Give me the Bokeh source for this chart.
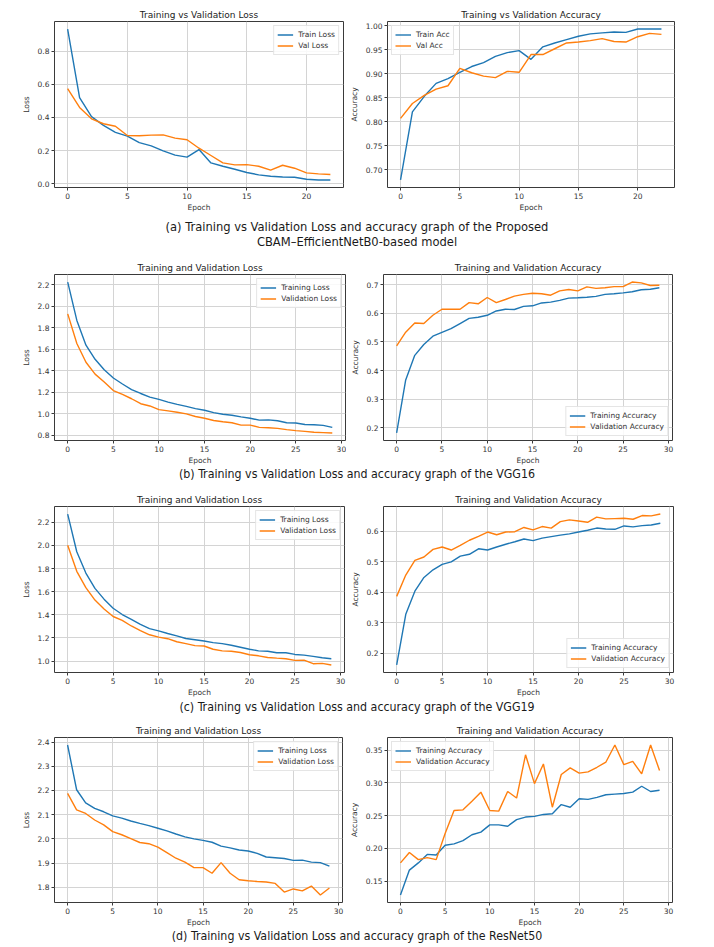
from bokeh.plotting import figure
from bokeh.layouts import column, row
from bokeh.models import Div, Range1d, FixedTicker, Legend, LegendItem, NumeralTickFormatter
from bokeh.embed import file_html
from bokeh.resources import INLINE

# ---------------- data ----------------
epochs_a = list(range(23))
epochs_30 = list(range(30))

effnet_train_loss = [0.935, 0.52, 0.405, 0.352, 0.31, 0.287, 0.248, 0.228, 0.198, 0.172, 0.16, 0.206,
                     0.125, 0.105, 0.087, 0.067, 0.053, 0.044, 0.040, 0.038, 0.026, 0.022, 0.022]
effnet_val_loss = [0.574, 0.461, 0.392, 0.362, 0.347, 0.291, 0.289, 0.293, 0.295, 0.275, 0.265, 0.214,
                   0.170, 0.125, 0.113, 0.115, 0.105, 0.081, 0.111, 0.093, 0.065, 0.059, 0.055]
effnet_train_acc = [0.679, 0.8205, 0.853, 0.880, 0.890, 0.903, 0.915, 0.923, 0.936, 0.944, 0.948, 0.930,
                    0.956, 0.964, 0.971, 0.978, 0.983, 0.985, 0.987, 0.986, 0.993, 0.993, 0.993]
effnet_val_acc = [0.807, 0.838, 0.855, 0.868, 0.875, 0.911, 0.902, 0.895, 0.892, 0.905, 0.903, 0.940,
                  0.940, 0.952, 0.964, 0.966, 0.969, 0.973, 0.967, 0.966, 0.977, 0.984, 0.982]

vgg16_train_loss = [2.224, 1.867, 1.637, 1.506, 1.408, 1.332, 1.276, 1.224, 1.188, 1.154, 1.133, 1.108,
                    1.087, 1.068, 1.047, 1.032, 1.010, 0.995, 0.986, 0.971, 0.958, 0.940, 0.943, 0.934,
                    0.916, 0.913, 0.900, 0.897, 0.891, 0.873]
vgg16_val_loss = [1.928, 1.653, 1.478, 1.368, 1.295, 1.215, 1.179, 1.139, 1.093, 1.072, 1.038, 1.026,
                  1.013, 0.998, 0.974, 0.958, 0.937, 0.925, 0.916, 0.894, 0.894, 0.873, 0.870, 0.864,
                  0.852, 0.843, 0.836, 0.827, 0.824, 0.821]
vgg16_train_acc = [0.182, 0.367, 0.453, 0.491, 0.520, 0.533, 0.546, 0.564, 0.582, 0.586, 0.593, 0.608,
                   0.614, 0.613, 0.624, 0.626, 0.636, 0.639, 0.645, 0.653, 0.654, 0.656, 0.659, 0.666,
                   0.668, 0.671, 0.675, 0.682, 0.684, 0.689]
vgg16_val_acc = [0.486, 0.534, 0.566, 0.564, 0.593, 0.614, 0.614, 0.614, 0.637, 0.633, 0.655, 0.637,
                 0.648, 0.660, 0.666, 0.670, 0.668, 0.663, 0.678, 0.683, 0.678, 0.692, 0.687, 0.689,
                 0.693, 0.693, 0.709, 0.706, 0.697, 0.698]

vgg19_train_loss = [2.271, 1.945, 1.761, 1.628, 1.535, 1.456, 1.402, 1.360, 1.317, 1.280, 1.261, 1.238,
                    1.218, 1.195, 1.184, 1.173, 1.159, 1.150, 1.136, 1.119, 1.102, 1.088, 1.085, 1.071,
                    1.071, 1.057, 1.051, 1.040, 1.028, 1.020]
vgg19_val_loss = [2.002, 1.776, 1.634, 1.527, 1.450, 1.385, 1.351, 1.303, 1.263, 1.227, 1.207, 1.193,
                  1.167, 1.150, 1.133, 1.130, 1.102, 1.088, 1.085, 1.074, 1.054, 1.045, 1.031, 1.025,
                  1.020, 1.006, 1.008, 0.977, 0.980, 0.966]
vgg19_train_acc = [0.162, 0.328, 0.404, 0.449, 0.474, 0.492, 0.500, 0.519, 0.525, 0.543, 0.539, 0.549,
                   0.558, 0.566, 0.575, 0.570, 0.578, 0.583, 0.588, 0.592, 0.598, 0.604, 0.611, 0.608,
                   0.607, 0.618, 0.615, 0.619, 0.621, 0.627]
vgg19_val_acc = [0.387, 0.457, 0.505, 0.516, 0.541, 0.549, 0.539, 0.554, 0.571, 0.584, 0.598, 0.589,
                 0.598, 0.599, 0.613, 0.605, 0.616, 0.611, 0.632, 0.638, 0.634, 0.630, 0.647, 0.641,
                 0.642, 0.643, 0.640, 0.652, 0.651, 0.657]

resnet_train_loss = [2.388, 2.203, 2.149, 2.126, 2.112, 2.095, 2.086, 2.074, 2.064, 2.055, 2.044, 2.033,
                     2.020, 2.008, 2.000, 1.994, 1.986, 1.970, 1.963, 1.954, 1.950, 1.940, 1.925, 1.922,
                     1.919, 1.911, 1.912, 1.904, 1.902, 1.887]
resnet_val_loss = [2.188, 2.120, 2.105, 2.078, 2.058, 2.030, 2.017, 2.001, 1.985, 1.980, 1.966, 1.943,
                   1.920, 1.904, 1.881, 1.881, 1.858, 1.902, 1.858, 1.831, 1.827, 1.824, 1.822, 1.816,
                   1.780, 1.793, 1.785, 1.805, 1.768, 1.797]
resnet_train_acc = [0.129, 0.167, 0.178, 0.191, 0.190, 0.205, 0.207, 0.212, 0.221, 0.225, 0.236, 0.236,
                    0.234, 0.244, 0.248, 0.249, 0.252, 0.253, 0.267, 0.263, 0.276, 0.275, 0.278, 0.282,
                    0.283, 0.284, 0.286, 0.295, 0.287, 0.289]
resnet_val_acc = [0.178, 0.194, 0.183, 0.186, 0.183, 0.223, 0.258, 0.259, 0.272, 0.286, 0.258, 0.257,
                  0.287, 0.277, 0.343, 0.299, 0.329, 0.263, 0.313, 0.323, 0.315, 0.317, 0.324, 0.332,
                  0.358, 0.328, 0.333, 0.314, 0.358, 0.319]

# tick values
xticks_a = [0, 5, 10, 15, 20]
xticks_30 = [0, 5, 10, 15, 20, 25, 30]
yticks_a_loss = [0.0, 0.2, 0.4, 0.6, 0.8]
yticks_a_acc = [0.70, 0.75, 0.80, 0.85, 0.90, 0.95, 1.00]
yticks_b_loss = [0.8, 1.0, 1.2, 1.4, 1.6, 1.8, 2.0, 2.2]
yticks_b_acc = [0.2, 0.3, 0.4, 0.5, 0.6, 0.7]
yticks_c_loss = [1.0, 1.2, 1.4, 1.6, 1.8, 2.0, 2.2]
yticks_c_acc = [0.2, 0.3, 0.4, 0.5, 0.6]
yticks_d_loss = [1.8, 1.9, 2.0, 2.1, 2.2, 2.3, 2.4]
yticks_d_acc = [0.15, 0.20, 0.25, 0.30, 0.35]

captions = [
    "(a) Training vs Validation Loss and accuracy graph of the Proposed<br>CBAM\u2013EfficientNetB0-based model",
    "(b) Training vs Validation Loss and accuracy graph of the VGG16",
    "(c) Training vs Validation Loss and accuracy graph of the VGG19",
    "(d) Training vs Validation Loss and accuracy graph of the ResNet50",
]

BLUE = "#1f77b4"
ORANGE = "#ff7f0e"
FONT = "DejaVu Sans"
CAP_FONT = "'Liberation Sans Narrow', 'Arial Narrow', 'DejaVu Sans Condensed', 'Roboto Condensed', sans-serif"


def panel(x, y1, y2, names, title, ylabel, xticks, yticks, yfmt, legend_loc,
          width, bl, br, top, frame_h=169, bottom=24):
    p = figure(width=width, height=top + frame_h + bottom, output_backend="svg",
               toolbar_location=None, title=title,
               min_border_left=bl, min_border_right=br, min_border_top=top, min_border_bottom=bottom)
    lo = min(min(y1), min(y2)); hi = max(max(y1), max(y2)); pad = (hi - lo) * 0.05
    p.y_range = Range1d(lo - pad, hi + pad)
    xpad = (max(x) - min(x)) * 0.05
    p.x_range = Range1d(min(x) - xpad, max(x) + xpad)
    p.title.text_font = FONT
    p.title.text_font_size = "9px"
    p.title.text_font_style = "normal"
    p.title.text_color = "#222222"
    p.title.align = "center"
    p.title.standoff = 3
    p.background_fill_color = "white"
    p.border_fill_color = "white"
    p.outline_line_color = "#3a3a3a"
    p.outline_line_width = 1
    for ax in (p.xaxis[0], p.yaxis[0]):
        ax.axis_line_color = None
        ax.major_tick_line_color = "#3a3a3a"
        ax.major_tick_out = 3
        ax.major_tick_in = 0
        ax.minor_tick_line_color = None
        ax.major_label_text_font = FONT
        ax.major_label_text_font_size = "7.5px"
        ax.major_label_text_color = "#333333"
        ax.major_label_standoff = 2
        ax.axis_label_text_font = FONT
        ax.axis_label_text_font_size = "7.5px"
        ax.axis_label_text_font_style = "normal"
        ax.axis_label_text_color = "#333333"
    p.xaxis.axis_label = "Epoch"
    p.xaxis.axis_label_standoff = 1
    p.yaxis.axis_label = ylabel
    p.yaxis.axis_label_standoff = 4
    p.xaxis.ticker = FixedTicker(ticks=xticks)
    p.yaxis.ticker = FixedTicker(ticks=yticks)
    p.xaxis.formatter = NumeralTickFormatter(format="0")
    p.yaxis.formatter = NumeralTickFormatter(format=yfmt)
    p.grid.grid_line_color = "#d4d4d4"
    p.grid.grid_line_width = 1
    r1 = p.line(x, y1, line_color=BLUE, line_width=1.4)
    r2 = p.line(x, y2, line_color=ORANGE, line_width=1.4)
    leg = Legend(items=[LegendItem(label=names[0], renderers=[r1]),
                        LegendItem(label=names[1], renderers=[r2])],
                 location=legend_loc)
    leg.label_text_font = FONT
    leg.label_text_font_size = "7.5px"
    leg.label_text_color = "#333333"
    leg.glyph_width = 16
    leg.glyph_height = 11
    leg.label_height = 11
    leg.label_standoff = 5
    leg.padding = 3
    leg.spacing = 0
    leg.margin = 4
    leg.border_line_color = "#cccccc"
    leg.border_line_width = 1
    leg.background_fill_alpha = 0.85
    p.add_layout(leg)
    return p


def caption(html, height, line_height, pad_top=0, size=12.3):
    return Div(text=html, width=714, height=height, margin=(0, 0, 0, 0),
               styles={"text-align": "center", "font-family": CAP_FONT, "font-size": f"{size}px",
                       "line-height": f"{line_height}px", "color": "#1a1a1a", "width": "714px",
                       "padding-top": f"{pad_top}px", "box-sizing": "border-box", "overflow": "visible"})


LW, RW = 346, 368

a1 = panel(epochs_a, effnet_train_loss, effnet_val_loss, ["Train Loss", "Val Loss"],
           "Training vs Validation Loss", "Loss", xticks_a, yticks_a_loss, "0.0", "top_right",
           LW, 54, 3, 21)
a2 = panel(epochs_a, effnet_train_acc, effnet_val_acc, ["Train Acc", "Val Acc"],
           "Training vs Validation Accuracy", "Accuracy", xticks_a, yticks_a_acc, "0.00", "top_left",
           RW, 40, 40, 21)
b1 = panel(epochs_30, vgg16_train_loss, vgg16_val_loss, ["Training Loss", "Validation Loss"],
           "Training and Validation Loss", "Loss", xticks_30, yticks_b_loss, "0.0", "top_right",
           LW, 54, 1, 22)
b2 = panel(epochs_30, vgg16_train_acc, vgg16_val_acc, ["Training Accuracy", "Validation Accuracy"],
           "Training and Validation Accuracy", "Accuracy", xticks_30, yticks_b_acc, "0.0", "bottom_right",
           RW, 37, 42, 22)
c1 = panel(epochs_30, vgg19_train_loss, vgg19_val_loss, ["Training Loss", "Validation Loss"],
           "Training and Validation Loss", "Loss", xticks_30, yticks_c_loss, "0.0", "top_right",
           LW, 54, 2, 24)
c2 = panel(epochs_30, vgg19_train_acc, vgg19_val_acc, ["Training Accuracy", "Validation Accuracy"],
           "Training and Validation Accuracy", "Accuracy", xticks_30, yticks_c_acc, "0.0", "bottom_right",
           RW, 37, 41, 24)
d1 = panel(epochs_30, resnet_train_loss, resnet_val_loss, ["Training Loss", "Validation Loss"],
           "Training and Validation Loss", "Loss", xticks_30, yticks_d_loss, "0.0", "top_right",
           LW, 54, 4, 21, bottom=23)
d2 = panel(epochs_30, resnet_train_acc, resnet_val_acc, ["Training Accuracy", "Validation Accuracy"],
           "Training and Validation Accuracy", "Accuracy", xticks_30, yticks_d_acc, "0.00", "top_left",
           RW, 40, 42, 21, bottom=23)

layout = column(
    row(a1, a2, spacing=0), caption(captions[0], 38, 15, 5, size=12.8),
    row(b1, b2, spacing=0), caption(captions[1], 15, 15),
    row(c1, c2, spacing=0), caption(captions[2], 17, 17),
    row(d1, d2, spacing=0), caption(captions[3], 16, 15),
    spacing=0,
)

open("out.html", "w").write(file_html(layout, INLINE))
